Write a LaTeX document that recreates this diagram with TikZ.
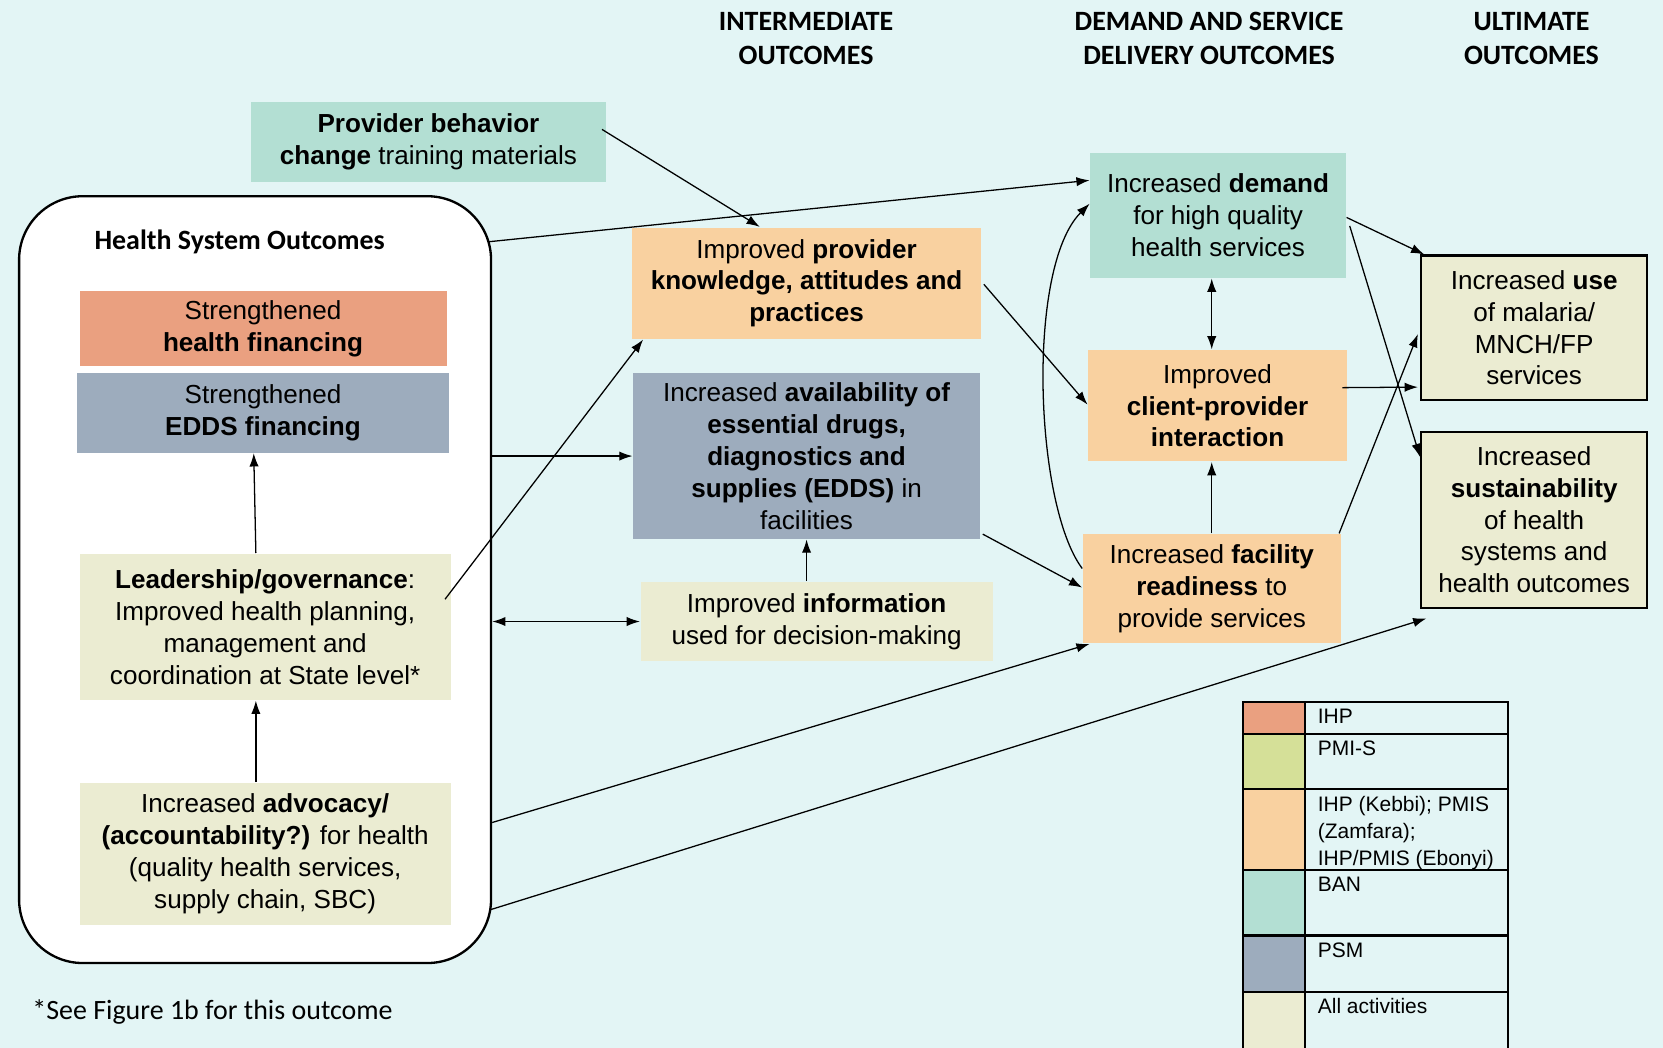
\documentclass[tikz,border=0pt]{standalone}
\usepackage{fontspec}
\setmainfont{Liberation Sans}
\newfontfamily\calibri{Carlito}
\usetikzlibrary{arrows.meta, calc, positioning}
\definecolor{bgcyan}{RGB}{227,245,245}
\definecolor{ihpred}{RGB}{234,160,128}
\definecolor{pmigreen}{RGB}{213,224,152}
\definecolor{mixpeach}{RGB}{249,209,160}
\definecolor{banmint}{RGB}{179,223,211}
\definecolor{psmblue}{RGB}{157,172,189}
\definecolor{allbeige}{RGB}{235,236,210}
\newcommand{\tb}{\textbf}

\begin{document}
\begin{tikzpicture}[x=0.016cm, y=-0.016cm,
  sz/.style 2 args = {minimum width={(#1)*0.016cm}, minimum height={(#2)*0.016cm}},
  basic/.style   = {align=center, inner sep=2pt, font=\fontsize{11.2}{13.7}\selectfont},
  ihp/.style     = {basic, fill=ihpred},
  psm/.style     = {basic, fill=psmblue},
  ban/.style     = {basic, fill=banmint},
  mix/.style     = {basic, fill=mixpeach},
  allact/.style  = {basic, fill=allbeige},
  ultimate/.style= {allact, draw, line width=1pt},
  hdr/.style     = {align=center, font=\calibri\bfseries\fontsize{12}{14.6}\selectfont},
  lgtext/.style  = {align=left, inner sep=0pt, anchor=north west, font=\fontsize{9}{11.7}\selectfont},
  legline/.style = {line width=1pt, line cap=rect},
  >={Latex[length=2mm,width=1.4mm]}, line width=0.55pt]

% background and page size
\fill[bgcyan] (0,0) rectangle (1568,988);
\useasboundingbox (0,0) rectangle (1568,988);

% column headings
\node[hdr] (h1) at (760,36)  {INTERMEDIATE\\OUTCOMES};
\node[hdr] (h2) at (1140,36) {DEMAND AND SERVICE\\DELIVERY OUTCOMES};
\node[hdr] (h3) at (1444,36) {ULTIMATE\\OUTCOMES};

% health system outcomes, the rounded frame and its boxes
\node[draw, fill=white, line width=1pt, rounded corners=0.96cm, sz={445}{723}] (hso) at (240.5,546.5) {};
\node[font=\calibri\bfseries\fontsize{12}{14.6}\selectfont] (hsot) at (226,228) {Health System Outcomes};
\node[ihp, sz={346}{71}] (hfin) at (248,310) {Strengthened\\\tb{health financing}};
\node[psm, sz={350}{75}, below=0.08cm of hfin] (edds) {Strengthened\\\tb{EDDS financing}};
\node[allact, sz={350}{138}] (lead) at (250,591)
  {\tb{Leadership/governance}:\\Improved health planning,\\management and\\coordination at State level*};
\node[allact, sz={350}{134}] (advo) at (250,805)
  {Increased \tb{advocacy/}\\\tb{(accountability?)} for health\\(quality health services,\\supply chain, SBC)};

% intermediate outcomes
\node[ban, sz={334}{75}] (pbc) at (404,134) {\tb{Provider behavior}\\\tb{change} training materials};
\node[mix, sz={329}{105}] (kap) at (760.5,267)
  {Improved \tb{provider}\\\tb{knowledge, attitudes and}\\\tb{practices}};
\node[psm, sz={327}{156}] (avail) at (760.5,430)
  {Increased \tb{availability of}\\\tb{essential drugs,}\\\tb{diagnostics and}\\\tb{supplies (EDDS)} in\\facilities};
\node[allact, sz={332}{75}] (info) at (770,586) {Improved \tb{information}\\used for decision-making};

% demand and service delivery outcomes
\node[ban, sz={241}{118}] (demand) at (1148.5,203) {Increased \tb{demand}\\for high quality\\health services};
\node[mix, sz={244}{105}] (cpi) at (1148,382.5) {Improved\\\tb{client-provider}\\\tb{interaction}};
\node[mix, sz={243}{103}] (ready) at (1142.5,555) {Increased \tb{facility}\\\tb{readiness} to\\provide services};

% ultimate outcomes
\node[ultimate, sz={213}{136}] (use) at (1446.5,309) {Increased \tb{use}\\of malaria/\\MNCH/FP\\services};
\node[ultimate, sz={213}{166}] (sust) at (1446.5,490)
  {Increased\\\tb{sustainability}\\of health\\systems and\\health outcomes};

% footnote
\node[anchor=west, inner sep=0pt, font=\calibri\fontsize{12}{14.6}\selectfont] (note) at (30,954) {*See Figure 1b for this outcome};

% legend
\foreach \col/\ya/\yb/\lbl [count=\i] in {ihpred/662/692/IHP, pmigreen/692/744/PMI-S,
    mixpeach/744/820/{IHP (Kebbi); PMIS\\(Zamfara);\\IHP/PMIS (Ebonyi)}, banmint/820/882/BAN,
    psmblue/882/935/PSM, allbeige/935/988/All activities} {
  \node[fill=\col, inner sep=0pt, anchor=north west, sz={57}{\yb-\ya}] (sw\i) at (1172,\ya) {};
  \node[lgtext] (lg\i) at (1242,\ya+6) {\lbl};
  \draw[legline] (sw\i.north west) -- ++(250,0);
}
\draw[legline] (sw1.north west) -- (sw6.south west);
\draw[legline] (sw1.north east) -- (sw6.south east);
\draw[legline] ($(sw1.north west)+(250,0)$) -- ($(sw6.south west)+(250,0)$);

% arrows inside the health system frame
\foreach \a/\b in {lead/edds, advo/lead}
  \draw[->] ([xshift=-0.14cm]\a.north) -- ([xshift=-0.14cm]\b.south);

% arrows to the intermediate outcomes
\draw[->] ($(pbc.east)+(-4,-12)$) -- ($(kap.north west)+(121,0)$);
\draw[->] ($(lead.east)+(-6,-26)$) -- ($(kap.south west)+(11,0)$);
\draw[->] (hso.east |- avail.west) -- (avail.west);
\draw[<->] (hso.east |- info.west) -- (info.west);
\draw[->] (info.north -| avail.south) -- (avail.south);

% arrows to demand and service delivery
\draw[->] ($(hso.north east)+(-3,44)$) -- ($(demand.west)+(0,-33)$);
\draw[->] ($(hso.east)+(0,229)$) -- ($(ready.south west)+(7,0)$);
\draw[->] ($(avail.south east)+(2,-5)$) -- ($(ready.west)+(0,-1)$);
\draw[->] ($(kap.east)+(2,1)$) -- ($(cpi.west)+(0,-1)$);
\draw[->] ($(ready.west)+(0,-19)$) .. controls +(-45,-60) and +(-60,60) .. ($(demand.west)+(0,-11)$);
\draw[<->] (ready.north |- demand.south) -- (ready.north |- cpi.north);
\draw[->] (ready.north) -- (ready.north |- cpi.south);

% arrows to the ultimate outcomes
\draw[->] ($(demand.east)+(0,2)$) -- ($(use.north west)+(4,0)$);
\draw[->] ($(demand.east)+(3,10)$) -- ($(sust.north west)+(0,25)$);
\draw[->] ($(cpi.east)+(-5,-17)$) -- ($(use.west)+(-2,56)$);
\draw[->] ($(ready.north east)+(-2,0)$) -- ($(use.west)+(-2,6)$);
\draw[->] ($(hso.east)+(-1,311)$) -- ($(sust.south west)+(6,9)$);

\end{tikzpicture}
\end{document}
